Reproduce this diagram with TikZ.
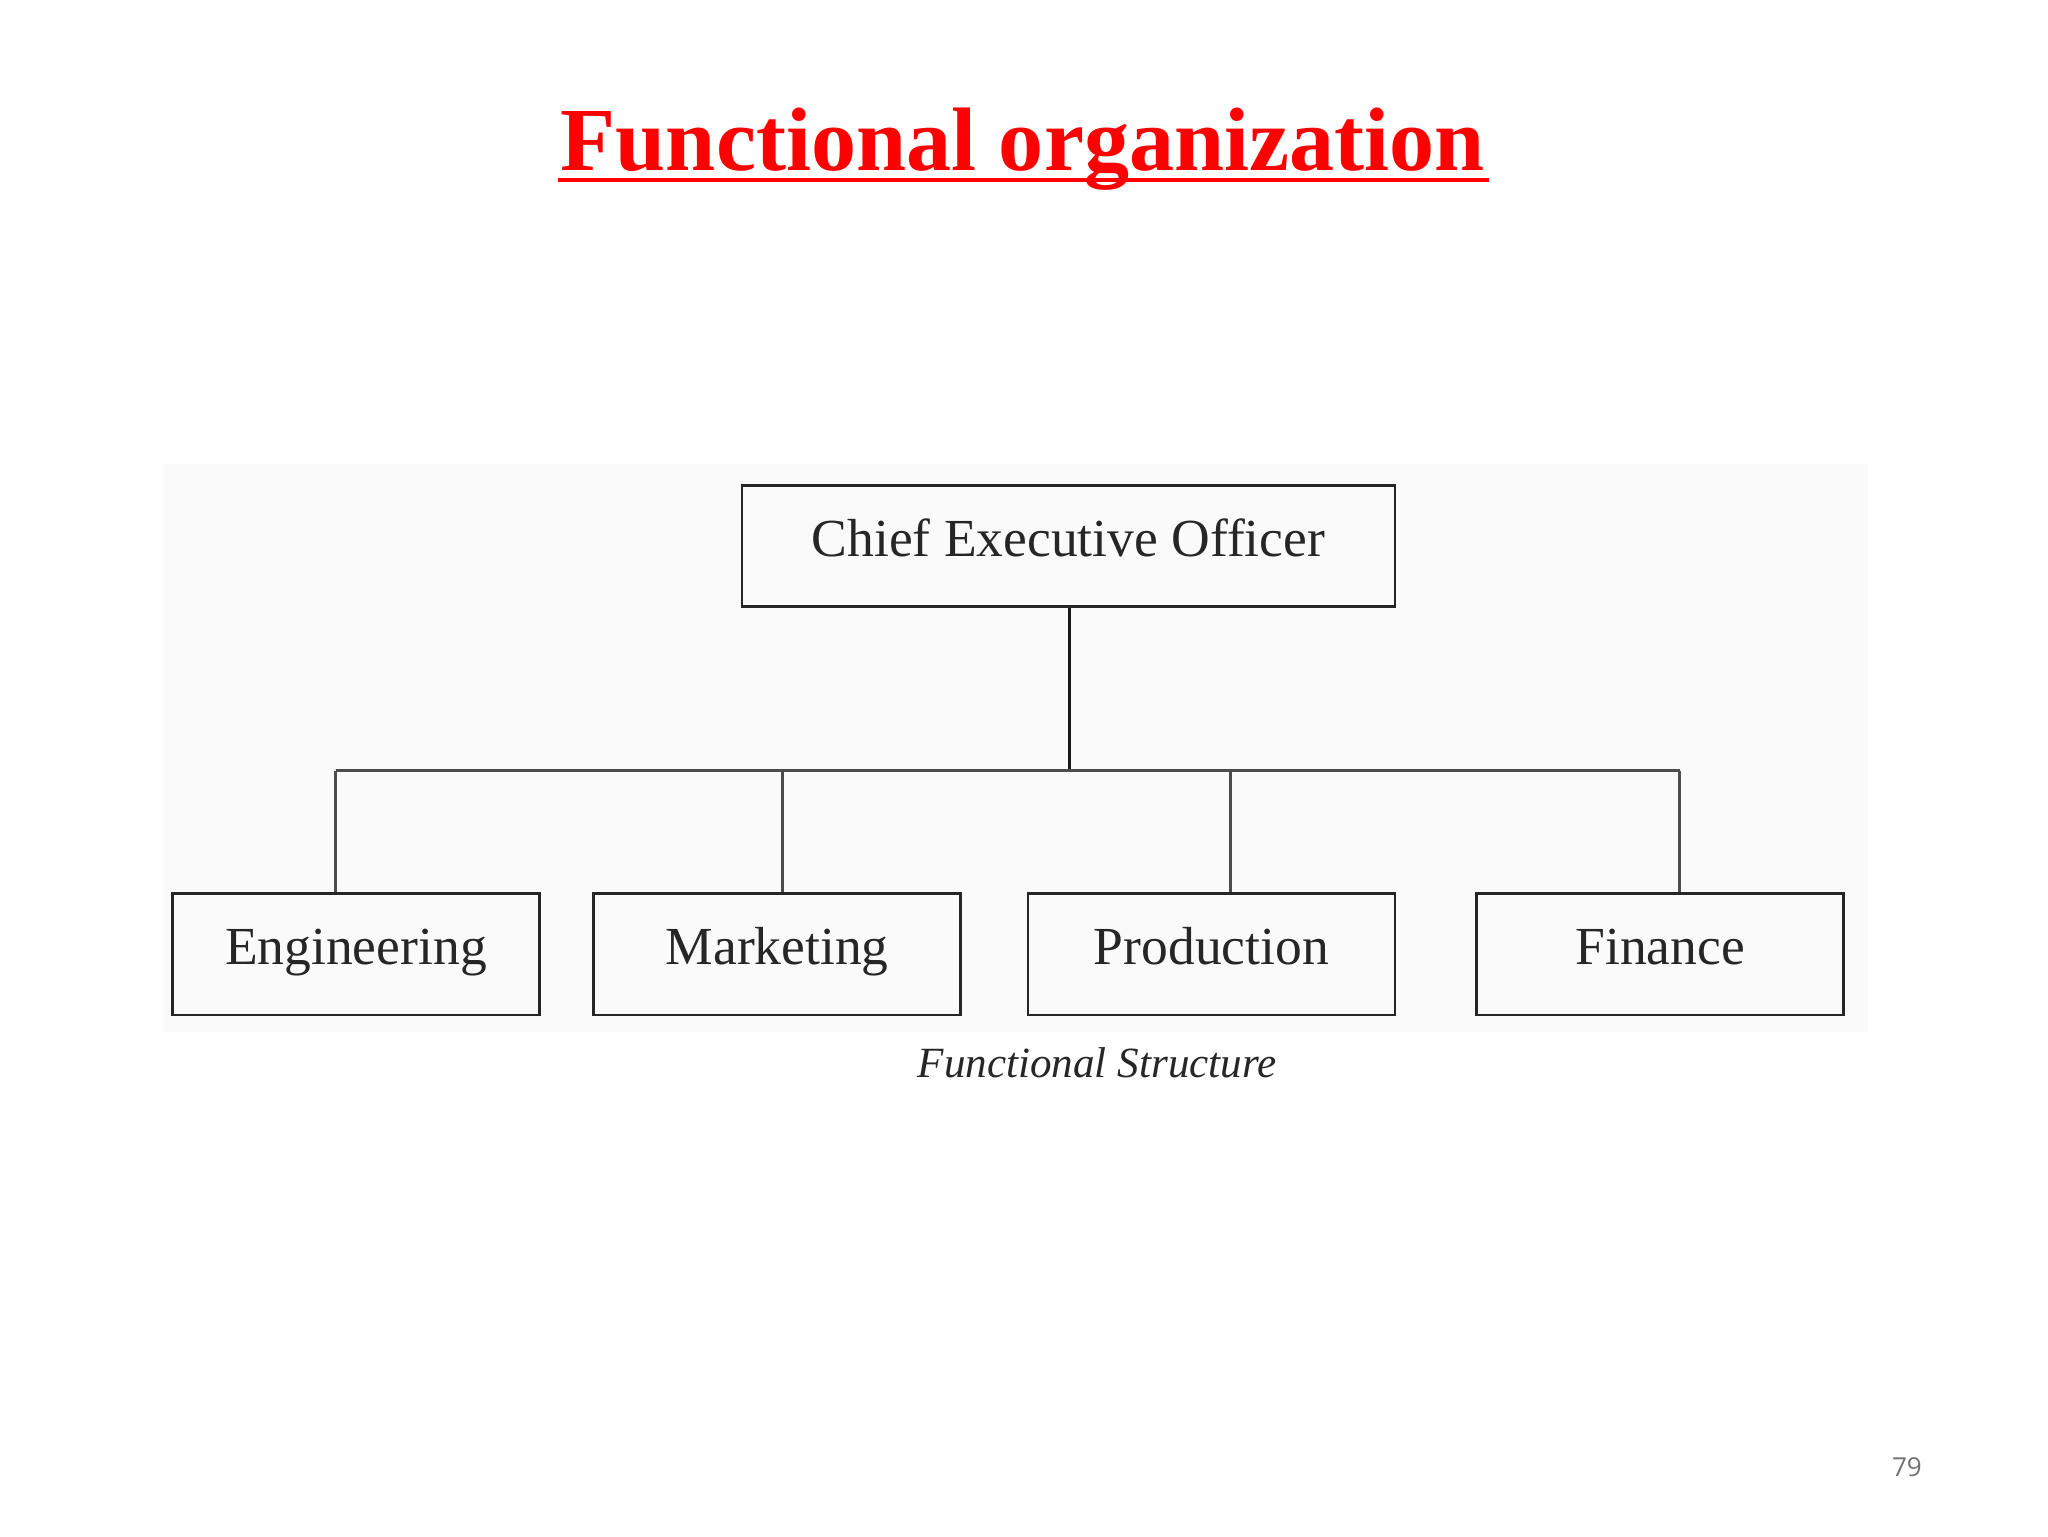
\documentclass[tikz,border=0pt]{standalone}
\usepackage{fontspec}
\setmainfont{Liberation Serif}
\newfontfamily\pgnum{Open Sans}
\begin{document}
\begin{tikzpicture}[x=1pt,y=-1pt,
  box/.style={draw=black!85,line width=2pt,minimum width=281pt,minimum height=93pt,inner sep=0pt,text height=28pt,text depth=12pt,font=\fontsize{41}{46}\selectfont,text=black!85},
  conn/.style={line width=2.5pt,draw=black!70}]
\useasboundingbox[fill=white] (0,0) rectangle (1568,1176);
\fill[black!2] (125,355) rectangle (1430,790);
\node[font=\fontsize{69}{76}\selectfont\bfseries,text=red] (title) at (783,114) {Functional organization};
\draw[red,line width=3pt] (427,138) -- (1140,138);
\node[box,minimum width=500pt] (ceo) at (818,418) {Chief Executive Officer};
\node[box] (eng) at (272.5,730.5) {Engineering};
\node[box] (mkt) at (595,730.5) {Marketing};
\node[box] (prod) at (927.5,730.5) {Production};
\node[box] (fin) at (1271,730.5) {Finance};
\coordinate (hub) at (819,590);
\draw[conn,draw=black!90] (ceo.south -| hub) -- (hub);
\draw[conn] (257,590) -- (1286,590);
\draw[conn] (257,590) -- (eng.north -| 257,0);
\draw[conn] (599,590) -- (mkt.north -| 599,0);
\draw[conn] (942,590) -- (prod.north -| 942,0);
\draw[conn] (1286,590) -- (fin.north -| 1286,0);
\node[font=\fontsize{33}{36}\selectfont\itshape,text=black!85] (cap) at (840,814) {Functional Structure};
\node[font=\pgnum\fontsize{20}{24}\selectfont,text=black!55] (pg) at (1460,1123) {79};
\end{tikzpicture}
\end{document}
